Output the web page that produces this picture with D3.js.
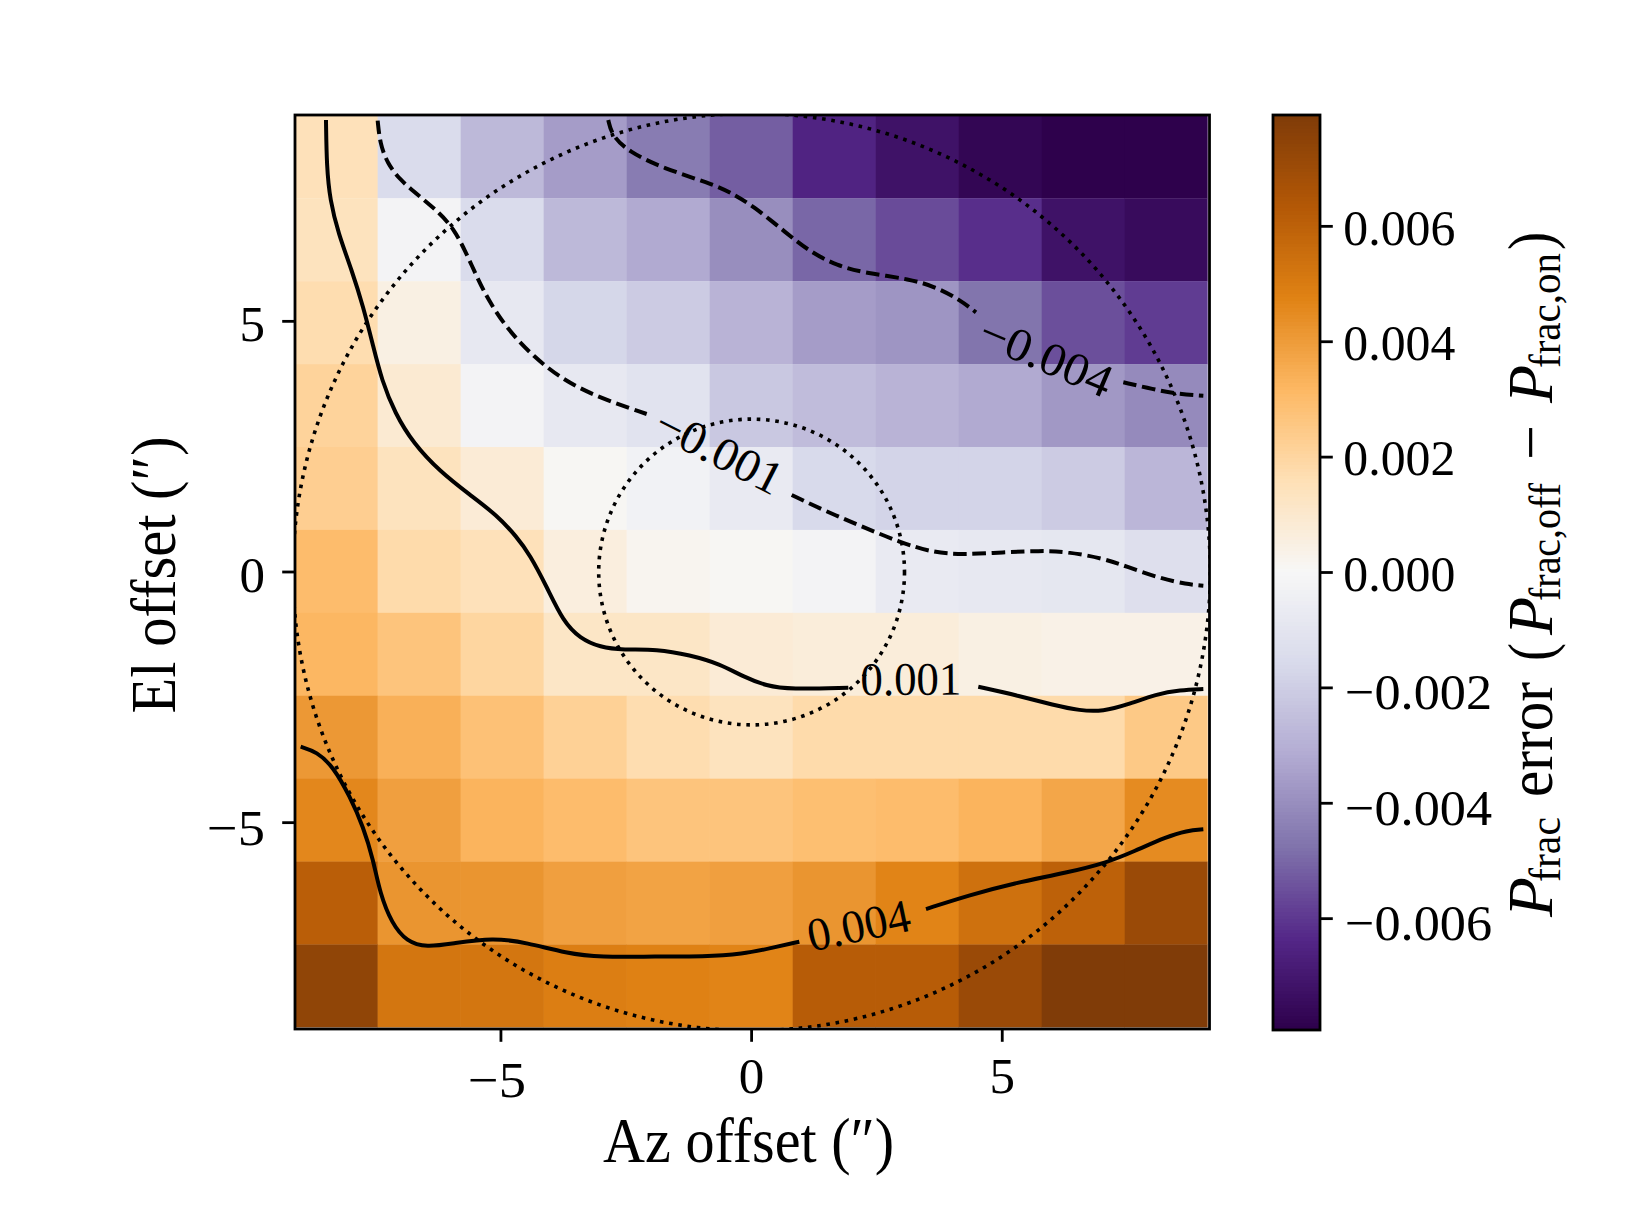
<!DOCTYPE html>
<html><head><meta charset="utf-8">
<script src="https://cdn.jsdelivr.net/npm/d3@7"></script>
<style>html,body{margin:0;padding:0;background:#fff}svg{display:block}text{font-family:"Liberation Serif",serif;fill:#000}</style>
</head><body><svg id="c" width="1635" height="1217"></svg>
<script>
const azCenters=[-8.28,-6.62,-4.97,-3.31,-1.66,0,1.66,3.31,4.97,6.62,8.28];
const elCenters=[8.28,6.62,4.97,3.31,1.66,0,-1.66,-3.31,-4.97,-6.62,-8.28];
const row0=[0.0015,-0.0015,-0.0027,-0.0036,-0.0045,-0.0052,-0.0065,-0.0072,-0.0077,-0.0079,-0.0079];
const row1=[0.0014,-0.0002,-0.0015,-0.0027,-0.0032,-0.0040,-0.0050,-0.0056,-0.0062,-0.0072,-0.0075];
const row2=[0.0017,0.0005,-0.0008,-0.0017,-0.0021,-0.0029,-0.0036,-0.0038,-0.0047,-0.0055,-0.0059];
const row3=[0.0021,0.0009,-0.0002,-0.0008,-0.0011,-0.0022,-0.0026,-0.0029,-0.0032,-0.0037,-0.0041];
const row4=[0.0023,0.0014,0.0008,0.0001,-0.0003,-0.0007,-0.0016,-0.0018,-0.0018,-0.0021,-0.0028];
const row5=[0.0030,0.0018,0.0015,0.0006,0.0002,0.0001,-0.0002,-0.0007,-0.0008,-0.0009,-0.0013];
const row6=[0.0032,0.0027,0.0020,0.0012,0.0012,0.0008,0.0007,0.0007,0.0005,0.0004,0.0004];
const row7=[0.0041,0.0034,0.0028,0.0022,0.0017,0.0014,0.0018,0.0018,0.0018,0.0018,0.0025];
const row8=[0.0046,0.0039,0.0033,0.0030,0.0027,0.0027,0.0029,0.0030,0.0033,0.0037,0.0045];
const row9=[0.0061,0.0042,0.0042,0.0039,0.0038,0.0039,0.0042,0.0047,0.0054,0.0060,0.0071];
const row10=[0.0074,0.0052,0.0052,0.0049,0.0048,0.0047,0.0062,0.0062,0.0071,0.0079,0.0079];
const rows=[row0,row1,row2,row3,row4,row5,row6,row7,row8,row9,row10];
const circleRadii=[3.05,9.15];
const xTicks=[-5,0,5], yTicks=[-5,0,5], cbTicks=[-0.006,-0.004,-0.002,0,0.002,0.004,0.006];
const puOrStops=["#2d004b","#542788","#8073ac","#b2abd2","#d8daeb","#f7f7f7","#fee0b6","#fdb863","#e08214","#b35806","#7f3b08"];
const vMax=0.00793;
const neg001a=[[-7.459,9.003],[-7.413,8.552],[-7.267,8.153],[-7.014,7.820],[-6.615,7.487],[-6.216,7.155],[-5.951,6.856],[-5.718,6.423],[-5.484,5.891],[-5.252,5.426],[-4.885,4.861],[-4.355,4.295],[-3.756,3.830],[-3.090,3.497],[-2.093,3.152]];
const neg001b=[[0.800,1.536],[1.498,1.203],[2.162,0.924],[2.960,0.592],[3.625,0.385],[4.223,0.345],[5.021,0.393],[5.753,0.425],[6.286,0.405],[7.016,0.273],[7.483,0.106],[8.147,-0.126],[8.679,-0.245],[9.011,-0.273]];
const neg004a=[[-2.859,9.016],[-2.791,8.717],[-2.460,8.384],[-1.761,8.053],[-0.830,7.754],[-0.431,7.580],[0.034,7.301],[0.700,6.756],[1.165,6.389],[1.698,6.110],[2.296,5.958],[3.160,5.845],[3.692,5.679],[4.157,5.426],[4.476,5.180]];
const neg004b=[[7.415,3.784],[8.013,3.645],[8.480,3.551],[9.011,3.517]];
const pos001a=[[-8.490,9.016],[-8.476,8.085],[-8.410,7.421],[-8.245,6.756],[-7.977,6.024],[-7.746,5.292],[-7.546,4.494],[-7.379,3.830],[-7.114,3.166],[-6.748,2.567],[-6.215,2.001],[-5.617,1.536],[-5.085,1.137],[-4.686,0.704],[-4.420,0.339],[-4.087,-0.293],[-3.756,-0.991],[-3.423,-1.323],[-3.024,-1.502],[-2.559,-1.556],[-1.893,-1.536],[-1.229,-1.656],[-0.630,-1.835],[-0.166,-2.089],[0.301,-2.274],[0.766,-2.340],[1.929,-2.308]];
const pos001b=[[4.522,-2.288],[5.354,-2.474],[6.018,-2.653],[6.551,-2.767],[7.016,-2.779],[7.483,-2.653],[8.081,-2.434],[8.546,-2.354],[9.011,-2.334]];
const pos004a=[[-8.995,-3.485],[-8.675,-3.585],[-8.344,-3.884],[-8.011,-4.482],[-7.746,-5.081],[-7.546,-5.745],[-7.413,-6.409],[-7.179,-7.008],[-6.880,-7.375],[-6.481,-7.487],[-5.951,-7.407],[-5.153,-7.295],[-4.486,-7.395],[-3.688,-7.606],[-3.024,-7.686],[-1.893,-7.666],[-0.963,-7.674],[-0.166,-7.620],[0.367,-7.506],[0.952,-7.375]];
const pos004b=[[3.479,-6.723],[4.357,-6.443],[5.220,-6.210],[6.286,-5.998],[7.084,-5.799],[7.614,-5.579],[8.281,-5.280],[8.679,-5.160],[9.011,-5.133]];
const dashedLines=[neg001a,neg001b,neg004a,neg004b];
const solidLines=[pos001a,pos001b,pos004a,pos004b];

const svg=d3.select("#c");
const L=295,R=1209.5,T=115,B=1029,LW=2.8;
const x=d3.scaleLinear().domain([-9.108,9.134]).range([L,R]);
const y=d3.scaleLinear().domain([-9.116,9.116]).range([B,T]);
const colX=d3.scaleBand().domain(azCenters).range([x(-9.115),x(9.098)]);
const rowY=d3.scaleBand().domain(elCenters).range([y(9.11),y(-9.085)]);
const color=d3.scaleLinear().domain(d3.range(11).map(i=>-vMax+i*vMax/5)).range(puOrStops).interpolate(d3.interpolateRgb);

svg.append("defs").append("clipPath").attr("id","ax").append("rect").attr("x",L).attr("y",T).attr("width",R-L).attr("height",B-T);
const cells=svg.append("g");
rows.forEach((r,i)=>r.forEach((v,j)=>{
  cells.append("rect").attr("x",colX(azCenters[j])).attr("y",rowY(elCenters[i]))
    .attr("width",colX.bandwidth()+(j<10?0.3:0)).attr("height",rowY.bandwidth()+(i<10?0.3:0)).attr("fill",color(v));
}));
const over=svg.append("g").attr("clip-path","url(#ax)");
circleRadii.forEach(r=>{
  over.append("circle").attr("cx",x(0)).attr("cy",y(0)).attr("r",x(r)-x(0))
    .attr("fill","none").attr("stroke","#000").attr("stroke-width",3.6).attr("stroke-dasharray","3.6,5.7");
});
const line=d3.line().x(d=>x(d[0])).y(d=>y(d[1])).curve(d3.curveBasis);
dashedLines.forEach(s=>over.append("path").attr("d",line(s)).attr("fill","none").attr("stroke","#000").attr("stroke-width",4).attr("stroke-dasharray","13.5,5.7"));
solidLines.forEach(s=>over.append("path").attr("d",line(s)).attr("fill","none").attr("stroke","#000").attr("stroke-width",4));

function clab(t,cx,cy,rot,len){
  svg.append("text").attr("transform",`translate(${cx},${cy}) rotate(${rot})`).attr("text-anchor","middle")
    .attr("font-size",47).attr("textLength",len).attr("lengthAdjust","spacingAndGlyphs").text(t);
}
clab("0.001",911,695,-0.4,101);
clab("0.004",862,941,-11.9,104);
clab("\u22120.004",1040,371,23,140);
clab("\u22120.001",712,465,27,137);

svg.append("rect").attr("x",L).attr("y",T).attr("width",R-L).attr("height",B-T).attr("fill","none").attr("stroke","#000").attr("stroke-width",LW);

const minus=v=>String(v).replace("-","\u2212");
const gx=svg.append("g").attr("transform",`translate(0,${B})`).call(d3.axisBottom(x).tickValues(xTicks).tickSize(12.8).tickFormat(minus).offset(0));
const gy=svg.append("g").attr("transform",`translate(${L},0)`).call(d3.axisLeft(y).tickValues(yTicks).tickSize(12.8).tickFormat(minus).offset(0));
[gx,gy].forEach(g=>{g.select(".domain").remove();g.selectAll("line").attr("stroke","#000").attr("stroke-width",LW);
  g.selectAll("text").attr("font-size",51).attr("font-family",'"Liberation Serif",serif').attr("fill","#000");});
gx.selectAll("text").attr("dy",null).attr("text-anchor","middle")
  .attr("y",d=>d<0?68.3:64.3).attr("dx",d=>d<0?-4:0).each(function(d){if(d<0)d3.select(this).attr("textLength",58).attr("lengthAdjust","spacingAndGlyphs");});
gy.selectAll("text").attr("x",-30).attr("dy",null).attr("text-anchor","end")
  .attr("y",d=>d<0?22.3:19.7).each(function(d){if(d<0)d3.select(this).attr("textLength",58).attr("lengthAdjust","spacingAndGlyphs");});

// axis titles
svg.append("text").attr("x",748.6).attr("y",1161.7).attr("text-anchor","middle").attr("font-size",64).attr("textLength",291).attr("lengthAdjust","spacingAndGlyphs").text("Az offset (\u2033)");
svg.append("text").attr("transform","translate(175,575) rotate(-90)").attr("text-anchor","middle").attr("font-size",64).attr("textLength",277).attr("lengthAdjust","spacingAndGlyphs").text("El offset (\u2033)");

// colorbar
const CL=1273,CR=1320,CT=115,CB=1030;
const cy=d3.scaleLinear().domain([-vMax,vMax]).range([CB,CT]);
const levels=d3.range(256);
const lev=d3.scaleBand().domain(levels).range([CB,CT]);
svg.append("g").attr("shape-rendering","crispEdges").selectAll("rect").data(levels).join("rect").attr("x",CL).attr("width",CR-CL)
  .attr("y",d=>Math.floor(lev(d))-1).attr("height",Math.ceil(lev.bandwidth())+1).attr("fill",d=>color(-vMax+(d+0.5)/256*2*vMax));
svg.append("rect").attr("x",CL).attr("y",CT).attr("width",CR-CL).attr("height",CB-CT).attr("fill","none").attr("stroke","#000").attr("stroke-width",LW);
const gc=svg.append("g").attr("transform",`translate(${CR},0)`).call(d3.axisRight(cy).tickValues(cbTicks).tickSize(12.8).tickFormat(v=>minus(v.toFixed(3))).offset(0));
gc.select(".domain").remove();
gc.selectAll("line").attr("stroke","#000").attr("stroke-width",LW);
gc.selectAll("text").attr("font-size",51).attr("font-family",'"Liberation Serif",serif').attr("fill","#000").attr("dy",null).attr("text-anchor","start")
  .attr("x",d=>d<0?25:23.3).attr("y",d=>d<0?21.6:18.3).attr("textLength",d=>d<0?147:112).attr("lengthAdjust","spacingAndGlyphs");

// colorbar title, rotated pieces
function piece(t,y0,y1,bx,size,ital){
  svg.append("text").attr("transform",`translate(${bx},${y0}) rotate(-90)`).attr("font-size",size)
    .attr("font-style",ital?"italic":"normal").attr("textLength",y0-y1).attr("lengthAdjust","spacingAndGlyphs").text(t);
}
const bl=1551.7, sb=1560;
piece("P",917,877,bl,64,true);
piece("frac",882,817,sb,44,false);
piece("error",797,682,bl,64,false);
piece("(",661,643,bl,64,false);
piece("P",635,597,bl,64,true);
piece("frac,off",601,483,sb,44,false);
piece("\u2212",460,425,bl,64,false);
piece("P",403,365,bl,64,true);
piece("frac,on",368,253,sb,44,false);
piece(")",250,232,bl,64,false);
</script></body></html>
